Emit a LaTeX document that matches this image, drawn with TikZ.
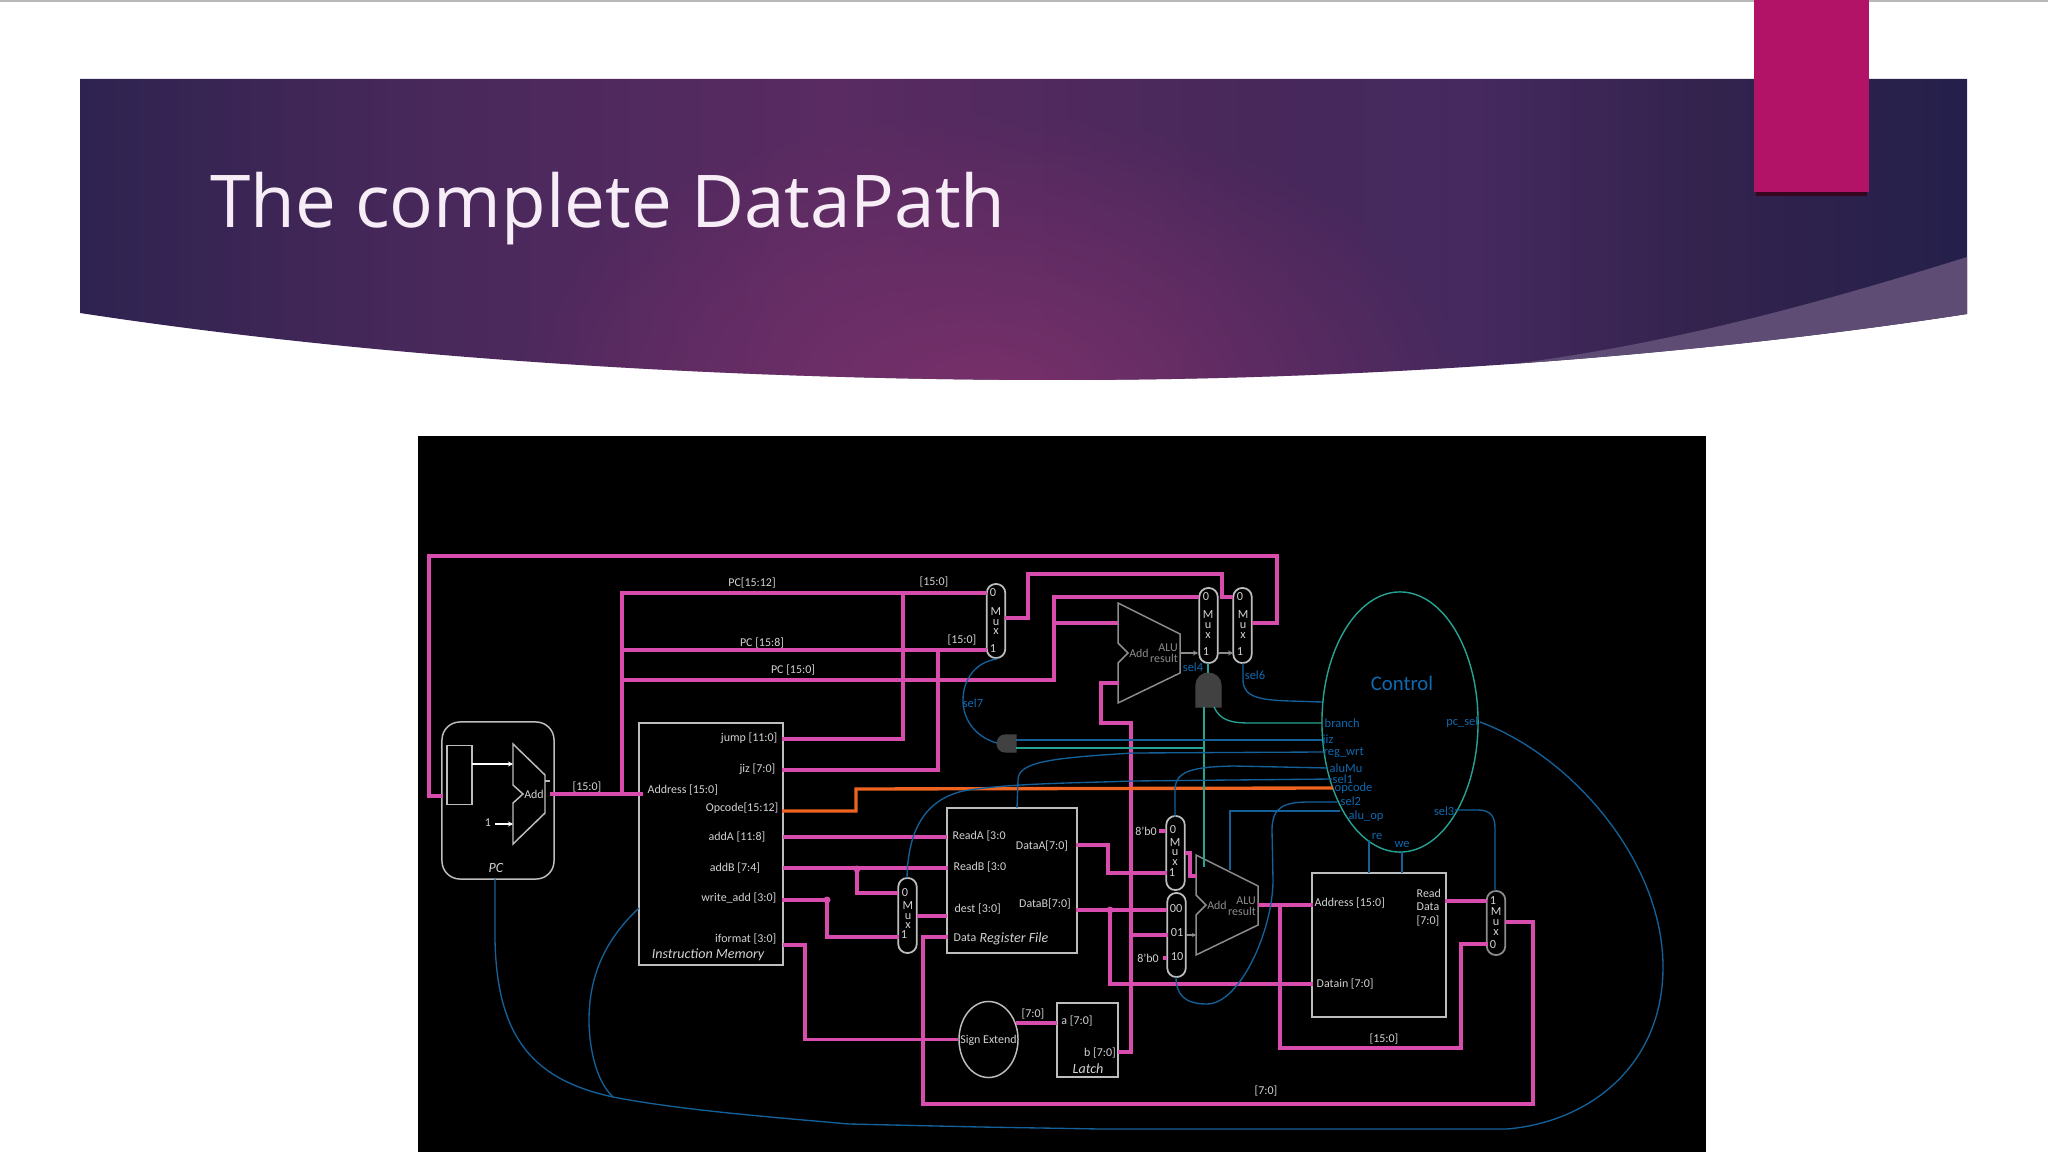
\documentclass[tikz,border=0pt]{standalone}
\usepackage{fontspec}
\setmainfont{Carlito}
\newfontfamily\titlefont{Open Sans}
\usetikzlibrary{shapes.geometric,arrows.meta,fadings}
\definecolor{bandA}{HTML}{2E2350}
\definecolor{bandB}{HTML}{48285B}
\definecolor{bandC}{HTML}{592B62}
\definecolor{bandD}{HTML}{45295F}
\definecolor{bandE}{HTML}{33234D}
\definecolor{bandF}{HTML}{24204B}
\definecolor{glow}{HTML}{78306A}
\definecolor{swoosh}{HTML}{5E4C74}
\definecolor{ribbon}{HTML}{B31366}
\definecolor{wirepink}{HTML}{D84CAE}
\definecolor{wireorange}{HTML}{EE6420}
\definecolor{wireblue}{HTML}{14619A}
\definecolor{wireteal}{HTML}{27A394}
\definecolor{textblue}{HTML}{0F69B0}
\definecolor{edgegrey}{HTML}{BDBDBD}
\definecolor{textgrey}{HTML}{D2D2D2}
\definecolor{dimgrey}{HTML}{8C8C8C}
\definecolor{gatefill}{HTML}{414141}
\pgfdeclarehorizontalshading{bannerh}{100bp}{color(0bp)=(bandA); color(25bp)=(bandA);
	color(34bp)=(bandB); color(45bp)=(bandC); color(56bp)=(bandB); color(62bp)=(bandD);
	color(68bp)=(bandE); color(75bp)=(bandF); color(100bp)=(bandF)}
\tikzfading[name=glowfade, inner color=transparent!0, outer color=transparent!100]
\def\bannerpath{(80,79)--(1967,79)--(1967,314) .. controls (1720,352) and (1400,380) .. (1060,380)
	.. controls (760,380) and (400,362) .. (80,313)--cycle}

\begin{document}
\begin{tikzpicture}[
		x=0.01cm, y=-0.01cm,
		bus/.style={line width=0.95pt, wirepink, line join=miter},
		busorange/.style={line width=0.95pt, wireorange},
		ctl/.style={line width=0.38pt, wireblue},
		ctlteal/.style={line width=0.38pt, wireteal},
		blok/.style={draw=edgegrey, line width=0.42pt, inner sep=0pt},
		muxcap/.style={draw=edgegrey, line width=0.5pt, inner sep=0pt, minimum width=0.185cm, rounded corners=0.09cm},
		aluedge/.style={draw=dimgrey, line width=0.42pt, line join=miter},
		lab/.style={text=textgrey, inner sep=0pt, font=\fontsize{3.4}{4}\selectfont},
		labw/.style={lab, anchor=west},
		labe/.style={lab, anchor=east},
		labi/.style={lab, font=\fontsize{4.0}{5}\selectfont\itshape},
		labd/.style={lab, text=dimgrey},
		muxlab/.style={lab, font=\fontsize{3.5}{4}\selectfont},
		ctllab/.style={inner sep=0pt, text=textblue, font=\fontsize{3.55}{4}\selectfont},
		joint/.style={circle, fill=wirepink, inner sep=0pt, minimum size=0.07cm},
		gatefig/.style={fill=gatefill, draw=gatefill, line width=0.3pt},
		]
		
		\newcommand{\alublk}[1]{%
			\begin{scope}[shift={(#1)}]
				\draw[aluedge](0,0)--(62,31)--(62,70)--(0,100)--(0,60)--(10,50)--(0,40)--cycle;
		\end{scope}}
		
		\useasboundingbox (0,0) rectangle (2048,1152);
		
		%% =========================================================
		%% SLIDE: BANNER, RIBBON, TITLE
		%% =========================================================
		\draw[line width=0.6pt, black!28](0,1)--(2048,1);
		\shade[shading=bannerh]\bannerpath;
		\begin{scope}
			\clip\bannerpath;
			\fill[glow, path fading=glowfade](990,400) ellipse (480 and 290);
			\fill[swoosh](1967,257) .. controls (1810,306) and (1650,350) .. (1470,369)--(1470,400)--(1967,400)--cycle;
		\end{scope}
		\fill[black!70!ribbon](1756,190) rectangle (1867,196);
		\fill[ribbon](1754,0) rectangle (1869,192);
		\node[anchor=base west, inner sep=0pt, text=white!93!violet, font=\fontsize{20.7}{26}\selectfont\titlefont]
			(titel) at (210,228) {The complete DataPath};
		
		%% panel
		\fill[black](418,436) rectangle (1706,1152);
		
		%% =========================================================
		%% BLOCKS
		%% =========================================================
		\node[blok, rounded corners=0.18cm, minimum width=1.12cm, minimum height=1.57cm] (pcbox) at (498,800.5) {};
		\node[blok, minimum width=0.25cm, minimum height=0.59cm] (pcreg) at (459.5,775) {};
		\node[blok, minimum width=1.44cm, minimum height=2.42cm] (imem) at (711,844) {};
		\node[blok, minimum width=1.30cm, minimum height=1.45cm] (regfile) at (1012,880.5) {};
		\node[blok, minimum width=1.34cm, minimum height=1.44cm] (dmem) at (1379,945) {};
		\node[blok, minimum width=0.61cm, minimum height=0.74cm] (latch) at (1087.5,1040) {};
		\node[blok, ellipse, minimum width=0.59cm, minimum height=0.76cm, text=textgrey,
			font=\fontsize{3.4}{4}\selectfont] (signext) at (988.5,1039.5) {};
		\node[draw=wireteal, line width=0.4pt, ellipse, inner sep=0pt, minimum width=1.56cm, minimum height=2.60cm] (ctrl) at (1400,722) {};
		\node[inner sep=0pt, text=textblue, font=\fontsize{5.9}{8}\selectfont] (ctrltxt) at (1402,683) {Control};
		
		%% mux
		\foreach \n/\x/\y/\h in {mA/996/621/0.74, mB/1208.5/625.5/0.75, mC/1242.5/625.5/0.75,
			mD/907.5/915.5/0.75, mE/1175.5/853/0.74, mF/1176.5/935/0.84}
		\node[muxcap, minimum height=\h cm] (\n) at (\x,\y) {};
		\node[muxcap, draw=dimgrey, minimum height=0.64cm] (mG) at (1496,923) {};
		
		%% adders
		\draw[line width=0.42pt, edgegrey](513,744)--(545,775)--(545,813)--(513,844)--(513,803)--(523,794)--(513,785)--cycle;
		\draw[line width=0.42pt, edgegrey](545,781)--(550,781);
		\alublk{1118,603}
		\alublk{1196,855}
		
		%% gates
		\draw[gatefig](1196,707)--(1196,685) .. controls (1196,678) and (1202,673) .. (1208,673)
			.. controls (1215,673) and (1221,678) .. (1221,685)--(1221,707)--cycle;
		\draw[gatefig](1016,735)--(1005,735) .. controls (1000,735) and (997,739) .. (997,743.5)
			.. controls (997,748) and (1000,752) .. (1005,752)--(1016,752)--cycle;
		
		%% =========================================================
		%% PORTS AND BENDS
		%% =========================================================
		\foreach \n/\x/\y in {
			fbl/429/556, fbr/1277/556, pcin/443/796, pco/550/794, adri/643/794,
			trunk/622/794, trunkt/622/593, trunkb/622/650, trunkc/622/680,
			jumpo/782/739, jizo/782/770, opo/782/811, addao/783/837, addbo/783/868, wro/782/900, ifo/783/945,
			jumpj/903/593, jizj/938/650, opu/856/789, opi/1333/788, ifj/805/1039.5, wrj/827/900, addbj/857/869,
			mAa/987/593, mAb/987/650, mAo/1005/618, mAu/1028/574, mCj/1222/597, mCa/1233/597,
			mBa/1199/597, alfa/1054/597, alfb/1054/623, aAa/1118/623, aAb/1119/683, aAc/1101/723,
			aAo/1180/653, mBb/1198/653, mBo/1218/653, mCb/1233/653, mCo/1252/623,
			lato/1118/1052, latj/1131/1052, seo/1016/1023, lata/1057/1023, ljb/1131/935,
			rai/947/837, rbi/948/868, desti/947/916, datai/948/937, mDa/898/893, mDb/899/937, mDo/917/916,
			dao/1076/845, daj/1108/873, dbo/1076/910, dbj/1110/910,
			mEa/1166/831, mEs/1159/831, mEb/1167/873, mEo/1185/853, mEj/1190/876, aBa/1197/876,
			mFa/1167/910, mFb/1168/935, mFc/1167/958, mFs/1163/958, mFo/1186/935, aBb/1196/935,
			aBo/1258/905, dadr/1313/905, fbj/1280/905, dind/1313/984, fbu/1461/1048,
			rdo/1445/901, mGa/1487/901, mGb/1488/944, mGo/1505/922, wbr/1533/1104, wbl/923/1104,
			gAo/1208/663, gAa/1208/673, gAb/1204/707, gAc/1214/707, gAe/1204/867,
			gBi/997/743, gBa/1016/740, gBb/1016/748, gBt/1204/748, mAs/997/659,
			cBr/1322/723, cSx/1322/702, cJz/1322/740, cRw/1323/752, cAm/1328/768, cSa/1332/779,
			cSb/1337/802, cOp/1340/811, aOp/1230/870, cRe/1369/840, cWe/1402/852, dRe/1369/873, dWe/1402/873,
			cSc/1455/810, mGt/1495/891, cPc/1480/722, pcb/495/879, ibr/639/908, ksp/613/1097,
			mCs/1243/663, rfT/1017/808, mEt/1175/817, mDt/907/878, mFd/1176/977}
		\coordinate (\n) at (\x,\y);
		
		%% =========================================================
		%% PINK BUSES
		%% =========================================================
		\draw[bus](mCo)-|(fbr)--(fbl)|-(pcin);
		\draw[bus](pco)--(adri);
		\draw[bus](trunk)--(trunkt)--(mAa);
		\draw[bus](trunkb)--(mAb);
		\draw[bus](trunkc)-|(alfa)--(mBa);
		\draw[bus](alfb)--(aAa);
		\draw[bus](jumpo)-|(jumpj);
		\draw[bus](jizo)-|(jizj);
		\draw[bus](mAo)-|(mAu)-|(mCj)--(mCa);
		\draw[bus](aAb)-|(aAc)-|(latj)--(lato);
		\draw[bus](addao)--(rai);
		\draw[bus](addbo)--(rbi);
		\draw[bus](addbj)|-(mDa);
		\draw[bus](wro)--(wrj)|-(mDb);
		\draw[bus](mDo)--(desti);
		\draw[bus](ifo)-|(ifj)--(signext.west);
		\draw[bus](seo)--(lata);
		\draw[bus](dao)-|(daj)--(mEb);
		\draw[bus](dbo)--(mFa);
		\draw[bus](dbj)|-(dind);
		\draw[bus](ljb)--(mFb);
		\draw[bus](mEs)--(mEa);
		\draw[bus](mFs)--(mFc);
		\draw[bus](mEo)-|(mEj)--(aBa);
		\draw[bus](aBo)--(dadr);
		\draw[bus](fbj)|-(fbu)|-(mGb);
		\draw[bus](rdo)--(mGa);
		\draw[bus](mGo)-|(wbr)--(wbl)|-(datai);
		\node[joint] (jA) at (addbj) {};
		\node[joint] (jB) at (wrj) {};
		\node[joint] (jC) at (dbj) {};
		\node[joint, minimum size=0.045cm] (jD) at (wbl) {};
		\draw[busorange](opo)-|(opu)--(opi);
		
		%% grey and white arrows
		\draw[line width=0.6pt, white, -{Stealth[length=0.05cm, width=0.05cm]}](472,764)--(513,764);
		\draw[line width=0.6pt, white, -{Stealth[length=0.05cm, width=0.05cm]}](495,824)--(513,824);
		\draw[line width=0.55pt, dimgrey, -{Stealth[length=0.05cm, width=0.05cm]}](aAo)--(mBb);
		\draw[line width=0.55pt, dimgrey, -{Stealth[length=0.05cm, width=0.05cm]}](mBo)--(mCb);
		\draw[line width=0.55pt, dimgrey, -{Stealth[length=0.04cm, width=0.04cm]}](mFo)--(aBb);
		
		%% =========================================================
		%% CONTROL LINES
		%% =========================================================
		\draw[ctlteal](gAo)--(gAa);
		\draw[ctlteal](gAb)--(gAe);
		\draw[ctlteal](gBb)--(gBt);
		\draw[ctlteal](gAc) .. controls (1220,720) and (1230,723) .. (1250,723)--(cBr);
		\draw[ctl](gBa)--(cJz);
		\draw[ctl](mAs) .. controls (975,662) and (963,680) .. (963,700) .. controls (963,722) and (978,738) .. (gBi);
		\draw[ctl](mCs)--(1243,680) .. controls (1243,698) and (1262,700) .. (1290,701)--(cSx);
		\draw[ctl](rfT)--(1018,780) .. controls (1018,762) and (1050,758) .. (1133,753)--(cRw);
		\draw[ctl](mEt)--(1175,790) .. controls (1175,770) and (1195,767) .. (1233,766)--(cAm);
		\draw[ctl](cSa)--(1133,781) .. controls (1080,783) and (1010,783) .. (963,791) .. controls (925,800) and (908,830) .. (mDt);
		\draw[ctl](cSb)--(1310,802) .. controls (1285,802) and (1272,806) .. (1272,830)--(1273,880)
			.. controls (1273,930) and (1240,1004) .. (1207,1004) .. controls (1185,1004) and (1176,995) .. (mFd);
		\draw[ctl](cOp)-|(aOp);
		\draw[ctl](cRe)--(dRe);
		\draw[ctl](cWe)--(dWe);
		\draw[ctl](cSc)--(1478,810) .. controls (1490,810) and (1495,816) .. (1495,828)--(mGt);
		\draw[ctl](cPc) .. controls (1570,755) and (1663,860) .. (1663,967) .. controls (1663,1065) and (1590,1122) .. (1507,1129)
			--(1100,1129)--(980,1127)--(849,1124) .. controls (770,1117) and (680,1110) .. (ksp)
			.. controls (535,1080) and (497,1040) .. (495,940)--(pcb);
		\draw[ctl](ksp) .. controls (595,1080) and (589,1045) .. (589,1020) .. controls (589,970) and (610,935) .. (ibr);
		
		%% =========================================================
		%% TEXTS
		%% =========================================================
		%% centred
		\foreach \n/\x/\y/\t in {
			tAdd/534/794/{Add}, tOne/488/823/{1}, tPa/587/787/{[15:0]},
			tPb/752/583/{PC[15:12]}, tPc/762/643/{PC [15:8]}, tPd/793/670/{PC [15:0]},
			tPe/934/582/{[15:0]}, tPf/962/640/{[15:0]},
			tAa/737/837/{addA [11:8]}, tAb/735/868/{addB [7:4]},
			tDa/1042/846/{DataA[7:0]}, tDb/1045/904/{DataB[7:0]},
			tZa/1146/831/{8'b0}, tZb/1148/958/{8'b0},
			tSe/988.5/1040/{Sign Extend}, tLa/1033/1014/{[7:0]}, tLb/1077/1021/{a [7:0]}, tLc/1100/1053/{b [7:0]},
			tMa/1384/1039/{[15:0]}, tMb/1266/1091/{[7:0]}}
		\node[lab] (\n) at (\x,\y) {\t};
		%% left aligned
		\foreach \n/\x/\y/\t in {
			tAd/647/790/{Address [15:0]}, tRa/952/836/{ReadA [3:0}, tRb/953/867/{ReadB [3:0},
			tDe/954/909/{dest [3:0]}, tDi/953/938/{Data},
			tMc/1314/903/{Address [15:0]}, tMd/1316/984/{Datain [7:0]},
			tMe/1416/893/{Read}, tMf/1416/907/{Data}, tMg/1416/921/{[7:0]}}
		\node[labw] (\n) at (\x,\y) {\t};
		%% right aligned
		\foreach \n/\x/\y/\t in {
			tJu/778/738/{jump [11:0]}, tJi/776/769/{jiz [7:0]}, tOp/779/808/{Opcode[15:12]},
			tWr/777/898/{write\_add [3:0]}, tIf/777/939/{iformat [3:0]}}
		\node[labe] (\n) at (\x,\y) {\t};
		%% italic
		\foreach \n/\x/\y/\t in {
			tPC/496/868/{PC}, tIm/708/955/{Instruction Memory}, tRf/1014/939/{Register File}, tLt/1088/1069/{Latch}}
		\node[labi] (\n) at (\x,\y) {\t};
		%% inside mux
		\foreach \n/\x/\y/\t in {
			aa/993/593/0, ab/996/612/M, ac/996/623/u, ad/996/632/x, ae/993/649/1,
			ba/1206/597/0, bb/1208/615/M, bc/1208/626/u, bd/1208/636/x, be/1206/652/1,
			ca/1240/597/0, cb/1243/615/M, cc/1243/626/u, cd/1243/636/x, ce/1240/652/1,
			da/905/893/0, db/908/906/M, dc/908/917/u, dd/908/926/x, de/904/935/1,
			ea/1173/830/0, eb/1175/843/M, ec/1175/853/u, ed/1175/863/x, ee/1172/873/1,
			fa/1176/909/00, fb/1177/933/01, fc/1177/957/10,
			ga/1493/901/1, gb/1496/912/M, gc/1496/923/u, gd/1496/933/x, ge/1493/945/0}
		\node[muxlab] (u\n) at (\x,\y) {\t};
		%% dim labels on the adders
		\foreach \n/\x/\y/\t in {
			dA/1139/653/{Add}, dB/1168/648/{ALU}, dC/1164/658/{result},
			dD/1217/905/{Add}, dE/1246/901/{ALU}, dF/1242/911/{result}}
		\node[labd] (\n) at (\x,\y) {\t};
		%% control labels
		\foreach \n/\x/\y/\t in {
			sA/1193/667/{sel4}, sB/1255/675/{sel6}, sC/973/703/{sel7},
			sD/1377/837/{re}, sE/1402/845/{we}}
		\node[ctllab] (\n) at (\x,\y) {\t};
		\foreach \n/\x/\y/\t in {
			cA/1324/723/{branch}, cB/1322/740/{jiz}, cC/1323/753/{reg\_wrt}, cD/1329/768/{aluMu},
			cE/1332/779/{sel1}, cF/1334/788/{opcode}, cG/1340/801/{sel2}, cH/1348/816/{alu\_op}}
		\node[ctllab, anchor=west] (\n) at (\x,\y) {\t};
		\node[ctllab, anchor=east] (cI) at (1479,722) {pc\_sel};
		\node[ctllab, anchor=east] (cJ) at (1455,811) {sel3};
		
\end{tikzpicture}
\end{document}
